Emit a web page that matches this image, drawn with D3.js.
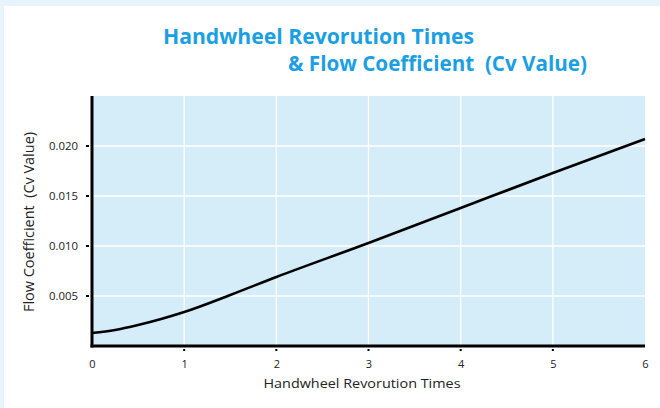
<!DOCTYPE html>
<html>
<head>
<meta charset="utf-8">
<script src="https://cdn.jsdelivr.net/npm/d3@7"></script>
<style>
  html, body { margin: 0; padding: 0; background: #e7f4fc; }
  svg { display: block; }
</style>
</head>
<body>
<svg id="chart" width="660" height="408"></svg>
<script>
// Handwheel turns vs. flow coefficient
const turns = [0, 0.25, 0.5, 0.75, 1, 1.5, 2, 3, 4, 5, 6];
const cvValues = [0.0013, 0.0016, 0.0021, 0.0027, 0.0034, 0.0051, 0.0069, 0.0103, 0.0138, 0.0173, 0.0207];
const xTicks = [0, 1, 2, 3, 4, 5, 6];
const yTicks = [0.005, 0.010, 0.015, 0.020];
const titleLines = ["Handwheel Revorution Times", "& Flow Coefficient  (Cv Value)"];
const xTitle = "Handwheel Revorution Times";
const yTitle = "Flow Coefficient  (Cv Value)";

const svg = d3.select("#chart");
const font = "'Open Sans', 'Noto Sans', sans-serif";

// white card
svg.append("rect").attr("x", 4).attr("y", 6).attr("width", 656).attr("height", 402).attr("fill", "#ffffff");

const x = d3.scaleLinear().domain([0, 6]).range([92, 645]);
const y = d3.scaleLinear().domain([0, 0.025]).range([346, 96]);

// plot background
svg.append("rect")
  .attr("x", x(0)).attr("y", y(0.025))
  .attr("width", x(6) - x(0)).attr("height", y(0) - y(0.025))
  .attr("fill", "#d5ecf9");

// grid
svg.append("g").selectAll("line").data(xTicks.slice(1, -1)).join("line")
  .attr("x1", d => x(d)).attr("x2", d => x(d))
  .attr("y1", y(0.025)).attr("y2", y(0))
  .attr("stroke", "#ffffff").attr("stroke-width", 1.3);
svg.append("g").selectAll("line").data(yTicks).join("line")
  .attr("x1", x(0)).attr("x2", x(6))
  .attr("y1", d => y(d)).attr("y2", d => y(d))
  .attr("stroke", "#ffffff").attr("stroke-width", 1.3);

// curve
const line = d3.line().x((d, i) => x(turns[i])).y(d => y(d)).curve(d3.curveMonotoneX);
svg.append("path").datum(cvValues)
  .attr("d", line)
  .attr("fill", "none").attr("stroke", "#000").attr("stroke-width", 2.6);

// axes
const xAxis = d3.axisBottom(x).tickValues(xTicks).tickFormat(d3.format("d")).tickSize(0).tickPadding(14);
const gx = svg.append("g").attr("transform", `translate(0,${y(0)})`).call(xAxis);
gx.select(".domain").remove();
gx.selectAll("text").attr("font-family", font).attr("font-size", 11).attr("fill", "#222");
svg.append("g").selectAll("rect").data(xTicks.slice(1, -1)).join("rect")
  .attr("x", d => x(d) - 1).attr("y", y(0) + 3).attr("width", 2).attr("height", 2).attr("fill", "#000");

const yAxis = d3.axisLeft(y).tickValues(yTicks).tickFormat(d3.format(".3f")).tickSize(0).tickPadding(14);
const gy = svg.append("g").attr("transform", `translate(${x(0)},0)`).call(yAxis);
gy.select(".domain").remove();
gy.selectAll("text").attr("font-family", font).attr("font-size", 11.5).attr("fill", "#222")
  .attr("textLength", 29).attr("lengthAdjust", "spacingAndGlyphs");
svg.append("g").selectAll("rect").data(yTicks).join("rect")
  .attr("x", x(0) - 6).attr("y", d => y(d) - 1).attr("width", 3).attr("height", 2).attr("fill", "#000");

// axis lines
svg.append("line").attr("x1", x(0)).attr("x2", x(0)).attr("y1", y(0.025)).attr("y2", y(0) + 1.5)
  .attr("stroke", "#000").attr("stroke-width", 3);
svg.append("line").attr("x1", x(0) - 1.5).attr("x2", x(6)).attr("y1", y(0)).attr("y2", y(0))
  .attr("stroke", "#000").attr("stroke-width", 3);

// titles
svg.append("text").attr("x", 163).attr("y", 44)
  .attr("font-family", font).attr("font-weight", 700).attr("font-size", 21.5)
  .attr("fill", "#1aa0e2").attr("textLength", 311).attr("lengthAdjust", "spacingAndGlyphs")
  .text(titleLines[0]);
svg.append("text").attr("x", 288).attr("y", 71)
  .attr("font-family", font).attr("font-weight", 700).attr("font-size", 21.5)
  .attr("fill", "#1aa0e2").attr("textLength", 299).attr("lengthAdjust", "spacingAndGlyphs")
  .style("white-space", "pre")
  .text(titleLines[1]);

svg.append("text").attr("x", 362).attr("y", 388)
  .attr("text-anchor", "middle")
  .attr("font-family", font).attr("font-size", 13.5).attr("fill", "#222")
  .attr("textLength", 197).attr("lengthAdjust", "spacingAndGlyphs")
  .text(xTitle);
svg.append("text").attr("transform", "translate(34,222) rotate(-90)")
  .attr("text-anchor", "middle")
  .attr("font-family", font).attr("font-size", 14).attr("fill", "#222")
  .attr("textLength", 180).attr("lengthAdjust", "spacingAndGlyphs")
  .style("white-space", "pre")
  .text(yTitle);
</script>
</body>
</html>
